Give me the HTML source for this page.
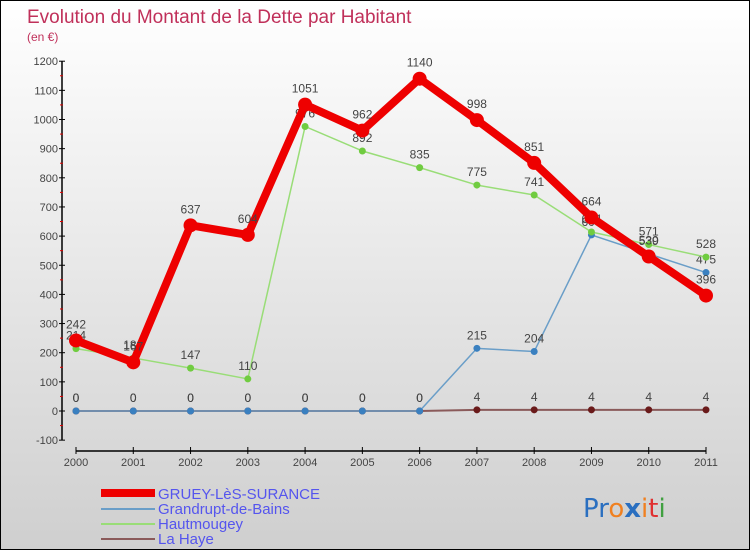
<!DOCTYPE html>
<html><head><meta charset="utf-8"><style>
body{margin:0;width:750px;height:550px;overflow:hidden;font-family:"Liberation Sans",sans-serif}
#wrap{position:relative;width:748px;height:548px;border:1px solid #000;background:linear-gradient(#ffffff,#cfcfcf)}
</style></head><body>
<div id="wrap">
<svg id="chart" width="748" height="548">
<text x="26" y="22" font-size="19" fill="#c0305a">Evolution du Montant de la Dette par Habitant</text>
<text x="26" y="40" font-size="12" fill="#c0305a">(en €)</text>
<g id="axes"></g><g id="series"></g>
<g>
<rect x="100" y="488" width="54" height="8" fill="#ee0000"/>
<text x="157" y="498" font-size="15" fill="#5555ee">GRUEY-LèS-SURANCE</text>
<rect x="100" y="507" width="54" height="2" fill="#6a9ec8"/>
<text x="157" y="513" font-size="15" fill="#5555ee">Grandrupt-de-Bains</text>
<rect x="100" y="522" width="54" height="2" fill="#99dd77"/>
<text x="157" y="528" font-size="15" fill="#5555ee">Hautmougey</text>
<rect x="100" y="537" width="54" height="2" fill="#8a5a5a"/>
<text x="157" y="543" font-size="15" fill="#5555ee">La Haye</text>
</g>
<text x="582" y="516" font-size="26" font-family="DejaVu Sans"><tspan fill="#2a6fc0">Pr</tspan><tspan fill="#f08020">o</tspan><tspan fill="#2a6fc0" font-weight="bold">x</tspan><tspan fill="#f08020">i</tspan><tspan fill="#e03030">t</tspan><tspan fill="#40a040">i</tspan></text>
</svg></div>
<script>
const years=[2000,2001,2002,2003,2004,2005,2006,2007,2008,2009,2010,2011];
const yTicks=[-100,0,100,200,300,400,500,600,700,800,900,1000,1100,1200];
const gruey=[242,167,637,604,1051,962,1140,998,851,664,530,396];
const grandrupt=[0,0,0,0,0,0,0,215,204,604,539,475];
const hautmougey=[214,182,147,110,976,892,835,775,741,614,571,528];
const lahaye=[0,0,0,0,0,0,0,4,4,4,4,4];
const NS='http://www.w3.org/2000/svg';
const X=i=>75+i*(630/11);
const Y=v=>410-v*0.2915;
function mk(tag,attrs,parent){const e=document.createElementNS(NS,tag);for(const k in attrs)e.setAttribute(k,attrs[k]);parent.appendChild(e);return e;}
const ax=document.getElementById('axes');
const yAxis=mk('line',{x1:61,y1:Y(1200),x2:61,y2:Y(-100),stroke:'#000','stroke-width':1.5},ax);


yTicks.forEach((t,i)=>{
  mk('line',{x1:58,y1:Y(t),x2:64,y2:Y(t),stroke:'#000'},ax);
  if(i<yTicks.length-1) mk('line',{x1:59,y1:Y(t+50),x2:62,y2:Y(t+50),stroke:'#e00000'},ax);
  const tx=mk('text',{x:57,y:Y(t)+4,'font-size':11,fill:'#444','text-anchor':'end'},ax);
  tx.textContent=t;
  
  
});
const xAxis=mk('line',{x1:X(0),y1:450,x2:X(11),y2:450,stroke:'#000','stroke-width':1.5},ax);


years.forEach((yr,i)=>{
  mk('line',{x1:X(i),y1:446,x2:X(i),y2:453,stroke:'#000'},ax);
  const tx=mk('text',{x:X(i),y:465,'font-size':11,fill:'#444','text-anchor':'middle'},ax);
  tx.textContent=yr;
  
  
});
const sg=document.getElementById('series');
function draw(vals,color,w,r,dot,name,labelDy){
  const g=mk('g',{},sg);
  
  
  const pl=mk('polyline',{points:vals.map((v,i)=>X(i)+','+Y(v)).join(' '),fill:'none',stroke:color,'stroke-width':w,'stroke-linejoin':'round'},g);
  
  
  vals.forEach((v,i)=>{
    const c=mk('circle',{cx:X(i),cy:Y(v),r:r,fill:dot},g);
    
    
    const t=mk('text',{x:X(i),y:Y(v)-labelDy,'font-size':12,fill:'#444','text-anchor':'middle'},g);
    t.textContent=v;
    
    
  });
}
draw(lahaye,'#8a5a5a',2,3.5,'#6a1a1a','lahaye',9);
draw(grandrupt,'#6a9ec8',1.5,3.5,'#3a80c0','grandrupt',9);
draw(hautmougey,'#99dd77',1.5,3.5,'#70cc40','hautmougey',9);
draw(gruey,'#ee0000',8,7,'#ee0000','gruey',12);
</script>
</body></html>
